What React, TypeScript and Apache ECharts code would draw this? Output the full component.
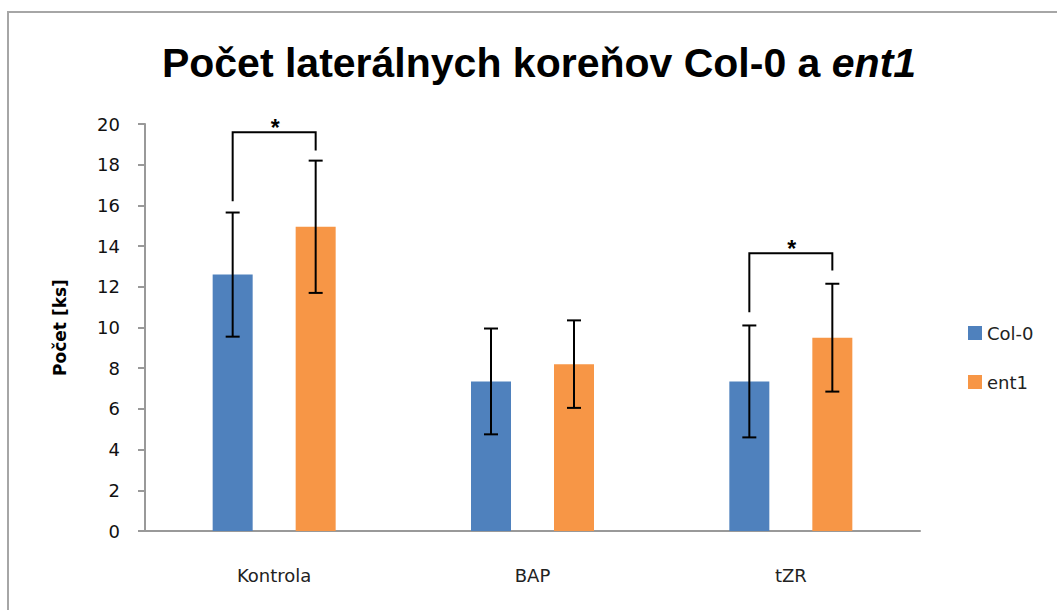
import React, { useEffect, useRef } from "react";
import * as echarts from "echarts";

const categories = ["Kontrola", "BAP", "tZR"];
const col0Means = [12.6, 7.35, 7.35];
const col0Err = [3.05, 2.6, 2.75];
const ent1Means = [14.95, 8.2, 9.5];
const ent1Err = [3.25, 2.15, 2.65];
// significance brackets: [category index, left leg bottom, bracket top, right leg bottom]
const brackets = [
  [0, 16.2, 19.6, 18.7],
  [2, 10.75, 13.65, 12.8],
];
const yTicks = { min: 0, max: 20, interval: 2 };

const BAR_W = 40;
const BAR_GAP = 43;
const HALF = (BAR_W + BAR_GAP) / 2;
const BLUE = "#4f81bd";
const ORANGE = "#f79646";
const FONT = "DejaVu Sans, sans-serif";

function errorSeries(name: string, means: number[], errs: number[], sign: number) {
  return {
    type: "custom",
    name: name + "-err",
    z: 5,
    silent: true,
    data: means.map((m, i) => [i, m - errs[i], m + errs[i]]),
    renderItem: (params: any, api: any) => {
      const i = api.value(0);
      const lo = api.coord([i, api.value(1)]);
      const hi = api.coord([i, api.value(2)]);
      const x = lo[0] + sign * HALF;
      const cap = 7;
      const style = { stroke: "#000", lineWidth: 2 };
      return {
        type: "group",
        children: [
          { type: "line", shape: { x1: x, y1: lo[1], x2: x, y2: hi[1] }, style },
          { type: "line", shape: { x1: x - cap, y1: hi[1], x2: x + cap, y2: hi[1] }, style },
          { type: "line", shape: { x1: x - cap, y1: lo[1], x2: x + cap, y2: lo[1] }, style },
        ],
      };
    },
  };
}

export default function App() {
  const ref = useRef<HTMLDivElement>(null);
  useEffect(() => {
    if (!ref.current) return;
    const chart = echarts.init(ref.current, null, { renderer: "svg" });
    chart.setOption({
      animation: false,
      backgroundColor: "#fff",
      title: {
        text: "Počet laterálnych koreňov Col-0 a {i|ent1}",
        left: 534,
        top: 37,
        textAlign: "center",
        textStyle: {
          fontFamily: "Liberation Sans, sans-serif",
          fontSize: 41,
          fontWeight: "bold",
          color: "#000",
          rich: {
            i: {
              fontFamily: "Liberation Sans, sans-serif",
              fontSize: 41,
              fontWeight: "bold",
              fontStyle: "italic",
              color: "#000",
            },
          },
        },
      },
      graphic: [
        {
          type: "rect",
          shape: { x: 8, y: 12, width: 1200, height: 800 },
          style: { fill: "none", stroke: "#a6a6a6", lineWidth: 2 },
          silent: true,
          z: -1,
        },
      ],
      legend: {
        data: ["Col-0", "ent1"],
        orient: "vertical",
        left: 963,
        top: 319,
        itemWidth: 14,
        itemHeight: 14,
        itemGap: 31,
        icon: "rect",
        textStyle: { fontFamily: FONT, fontSize: 18, color: "#222" },
      },
      grid: { left: 145, right: 137, top: 124, bottom: 79 },
      xAxis: {
        type: "category",
        data: categories,
        axisLine: { lineStyle: { color: "#999", width: 2 } },
        axisTick: { length: 7, lineStyle: { color: "#999", width: 2 } },
        axisLabel: {
          margin: 35,
          fontFamily: FONT,
          fontSize: 18,
          color: "#222",
        },
      },
      yAxis: {
        type: "value",
        min: yTicks.min,
        max: yTicks.max,
        interval: yTicks.interval,
        name: "Počet [ks]",
        nameLocation: "middle",
        nameGap: 77,
        nameTextStyle: {
          fontFamily: FONT,
          fontSize: 17,
          fontWeight: "bold",
          color: "#000",
        },
        splitLine: { show: false },
        axisLine: { show: true, lineStyle: { color: "#999", width: 2 } },
        axisTick: { show: true, length: 7, lineStyle: { color: "#999", width: 2 } },
        axisLabel: {
          margin: 25,
          fontFamily: FONT,
          fontSize: 18,
          color: "#111",
        },
      },
      series: [
        {
          type: "bar",
          name: "Col-0",
          data: col0Means,
          barWidth: BAR_W,
          barGap: (BAR_GAP / BAR_W) * 100 + "%",
          itemStyle: { color: BLUE },
        },
        {
          type: "bar",
          name: "ent1",
          data: ent1Means,
          barWidth: BAR_W,
          itemStyle: { color: ORANGE },
        },
        errorSeries("Col-0", col0Means, col0Err, -1),
        errorSeries("ent1", ent1Means, ent1Err, 1),
        {
          type: "custom",
          name: "signif",
          z: 6,
          silent: true,
          data: brackets,
          renderItem: (params: any, api: any) => {
            const i = api.value(0);
            const lb = api.coord([i, api.value(1)]);
            const top = api.coord([i, api.value(2)]);
            const rb = api.coord([i, api.value(3)]);
            const xl = top[0] - HALF;
            const xr = top[0] + HALF;
            return {
              type: "group",
              children: [
                {
                  type: "polyline",
                  shape: { points: [[xl, lb[1]], [xl, top[1]], [xr, top[1]], [xr, rb[1]]] },
                  style: { stroke: "#000", lineWidth: 2, fill: "none" },
                },
                {
                  type: "text",
                  x: top[0] + 1,
                  y: top[1] - 4,
                  style: {
                    text: "*",
                    fontFamily: "Liberation Sans, sans-serif",
                    fontSize: 23,
                    fontWeight: "bold",
                    fill: "#000",
                    align: "center",
                    verticalAlign: "middle",
                  },
                },
              ],
            };
          },
        },
      ],
    });
    return () => chart.dispose();
  }, []);
  return (
    <div
      ref={ref}
      style={{ position: "absolute", left: 0, top: 0, width: 1057, height: 610 }}
    />
  );
}
